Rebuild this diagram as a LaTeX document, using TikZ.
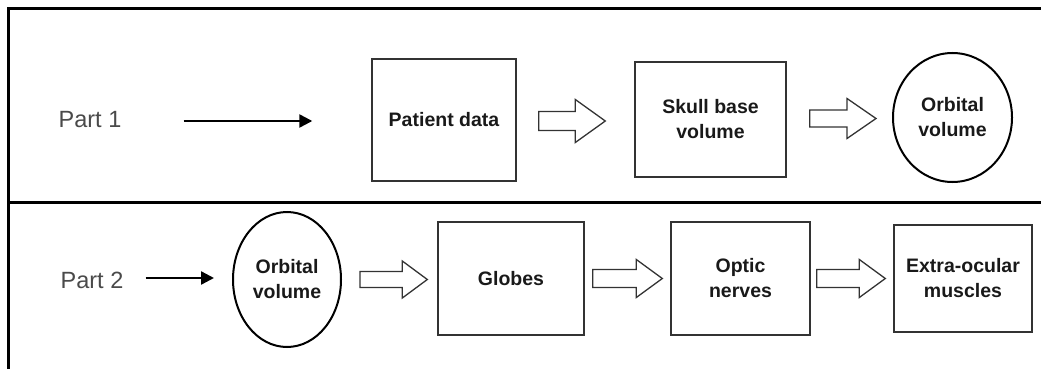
\documentclass[tikz,border=0pt]{standalone}
\usepackage{fontspec}
\setmainfont{Liberation Sans}
\usetikzlibrary{calc,arrows.meta,shapes.geometric}

\definecolor{boxline}{HTML}{333333}
\definecolor{labelgray}{HTML}{4A4A4A}

\tikzset{
  stepbox/.style={draw=boxline, line width=1.4pt, inner sep=0pt, align=center,
    font=\fontsize{19.5}{25}\selectfont\bfseries, text=black!90},
  stepoval/.style={draw=black, ellipse, line width=2pt, inner sep=0pt, align=center,
    font=\fontsize{19.5}{25}\selectfont\bfseries, text=black!90},
  partlabel/.style={font=\fontsize{23.5}{28}\selectfont, text=labelgray, inner sep=0pt},
  frameline/.style={line width=3pt, black},
  leadarrow/.style={line width=2.4pt, -{Triangle[length=13pt,width=13pt]}},
  % hollow block arrow: #1 shaft half-height, #2 head half-height, #3 head length
  hollow/.style n args={3}{draw=boxline, line width=1.3pt, fill=white, line join=miter,
    to path={let \p1=(\tikztostart), \p2=(\tikztotarget) in
      (\x1,\y1+#1) -- (\x2-#3,\y1+#1) -- (\x2-#3,\y1+#2) -- (\x2,\y1)
      -- (\x2-#3,\y1-#2) -- (\x2-#3,\y1-#1) -- (\x1,\y1-#1) -- cycle}},
}

\begin{document}
\begin{tikzpicture}[x=1pt, y=-1pt]
  \useasboundingbox (0,0) rectangle (1041,369);

  % frame and row divider
  \draw[frameline] (8.5,369) -- (8.5,9) -- (1041,9);
  \draw[frameline] (8.5,202.5) -- (1041,202.5);

  % row 1
  \node[partlabel] (part1) at (90,120) {Part 1};
  \node[stepbox, minimum width=144pt, minimum height=122pt] (pd) at (444,120) {Patient data};
  \node[stepbox, minimum width=151pt, minimum height=115pt] (sk) at (710.5,119.5) {Skull base\\volume};
  \node[stepoval, minimum width=119pt, minimum height=129pt] (ov1) at (952.5,117.5) {Orbital\\volume};

  \coordinate (l1s) at ($(part1.east)+(62,1)$);
  \coordinate (l1e) at ($(pd.west)+(-59,1)$);
  \draw[leadarrow] (l1s) -- (l1e);

  \coordinate (h1s) at ($(pd.east)+(22,1)$);
  \coordinate (h1e) at ($(sk.west)+(-29,1.5)$);
  \draw[hollow={9.5pt}{21.5pt}{30pt}] (h1s) to (h1e);

  \coordinate (h2s) at ($(sk.east)+(23,-1)$);
  \coordinate (h2e) at ($(ov1.west)+(-16,0)$);
  \draw[hollow={8.5pt}{20pt}{29pt}] (h2s) to (h2e);

  % row 2
  \node[partlabel] (part2) at (92,280) {Part 2};
  \node[stepoval, minimum width=108pt, minimum height=135pt] (ov2) at (287,279.5) {Orbital\\volume};
  \node[stepbox, minimum width=146pt, minimum height=113pt] (gl) at (511,278.5) {Globes};
  \node[stepbox, minimum width=139pt, minimum height=113pt] (on) at (740.5,278.5) {Optic\\nerves};
  \node[stepbox, minimum width=138pt, minimum height=107pt] (eo) at (963,278.5) {Extra-ocular\\muscles};

  \coordinate (l2s) at ($(part2.east)+(22,-2)$);
  \coordinate (l2e) at ($(ov2.west)+(-18,-1.5)$);
  \draw[leadarrow] (l2s) -- (l2e);

  \coordinate (h3s) at ($(ov2.east)+(18,0)$);
  \coordinate (h3e) at ($(gl.west)+(-10,0)$);
  \draw[hollow={8pt}{18.5pt}{25pt}] (h3s) to (h3e);

  \coordinate (h4s) at ($(gl.east)+(8,0)$);
  \coordinate (h4e) at ($(on.west)+(-8,0)$);
  \draw[hollow={9pt}{19pt}{26pt}] (h4s) to (h4e);

  \coordinate (h5s) at ($(on.east)+(6,0)$);
  \coordinate (h5e) at ($(eo.west)+(-8,0)$);
  \draw[hollow={9pt}{19pt}{26pt}] (h5s) to (h5e);
\end{tikzpicture}
\end{document}
